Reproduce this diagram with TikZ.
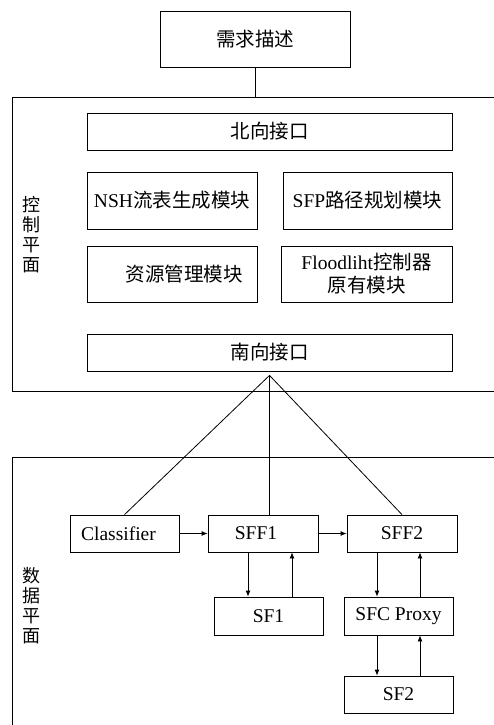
\documentclass[tikz,border=0pt]{standalone}
\usepackage{fontspec}
\setmainfont{Liberation Serif}
\newfontfamily\cjk{Noto Sans CJK SC}
\usetikzlibrary{arrows.meta}

\begin{document}
\begin{tikzpicture}[x=1pt, y=-1pt, line width=0.8pt,
    font=\fontsize{19.5}{23}\selectfont,
    >={Latex[length=6pt,width=5pt]},
    box/.style = {draw, inner sep=0pt, minimum height=37pt},
    plane/.style = {draw, inner sep=0pt, anchor=north west},
    side/.style = {align=center, inner sep=0pt, font=\cjk\fontsize{18}{20}\selectfont}]
      \useasboundingbox (0,0) rectangle (494,725);

      \node[plane, minimum width=500pt, minimum height=294pt] (ctrl) at (12,97) {};
      \node[plane, minimum width=500pt, minimum height=280pt] (data) at (12,457) {};
      \node[side] (ctrllbl) at (32,235) {控\\制\\平\\面};
      \node[side] (datalbl) at (32,606) {数\\据\\平\\面};

      \node[box, minimum width=190pt, minimum height=56pt] (req) at (255,39) {\cjk 需求描述};
      \node[box, minimum width=365pt] (nbi) at (269.5,131.5) {\cjk 北向接口};
      \node[box, minimum width=170pt, minimum height=57pt] (nsh) at (172,200.5) {NSH{\cjk 流表生成模块}};
      \node[box, minimum width=169pt, minimum height=57pt] (sfp) at (367.5,200.5) {SFP{\cjk 路径规划模块}};
      \node[box, minimum width=170pt, minimum height=56pt] (res) at (172,274) {\hspace*{24pt}\cjk 资源管理模块};
      \node[box, minimum width=171pt, minimum height=56pt, align=center] (fld) at (366.5,274)
        {Floodliht{\cjk 控制器}\\{\cjk 原有模块}};
      \node[box, minimum width=365pt] (sbi) at (269.5,352.5) {\cjk 南向接口};

      \node[box, minimum width=109pt] (cls) at (124.5,533.5) {Classifier\hspace*{12pt}};
      \node[box, minimum width=110pt] (sff1) at (263,533.5) {SFF1\hspace*{14pt}};
      \node[box, minimum width=110pt] (sff2) at (402,533.5) {SFF2};
      \node[box, minimum width=109pt, minimum height=38pt] (sf1) at (268.5,616) {SF1};
      \node[box, minimum width=109pt, minimum height=38pt] (proxy) at (398.5,616) {SFC Proxy};
      \node[box, minimum width=109pt] (sf2) at (398.5,694.5) {SF2};

      \coordinate (apex) at ([yshift=-4pt]sbi.south);

      \draw (req.south) -- (req.south |- ctrl.north);
      \draw (apex) -- (cls.north);
      \draw (apex) -- (apex |- sff1.north);
      \draw (apex) -- (sff2.north);

      \draw[->] (cls) -- (sff1);
      \draw[->] (sff1) -- (sff2);
      \draw[->] ([xshift=-15pt]sff1.south) -- ([xshift=-15pt]sff1.south |- sf1.north);
      \draw[->] ([xshift=23.5pt]sf1.north) -- ([xshift=23.5pt]sf1.north |- sff1.south);
      \draw[->] ([xshift=-25pt]sff2.south) -- ([xshift=-25pt]sff2.south |- proxy.north);
      \draw[->] ([xshift=21.5pt]proxy.north) -- ([xshift=21.5pt]proxy.north |- sff2.south);
      \draw[->] ([xshift=-21.5pt]proxy.south) -- ([xshift=-21.5pt]proxy.south |- sf2.north);
      \draw[->] ([xshift=21.5pt]sf2.north) -- ([xshift=21.5pt]sf2.north |- proxy.south);
    \end{tikzpicture}
\end{document}
